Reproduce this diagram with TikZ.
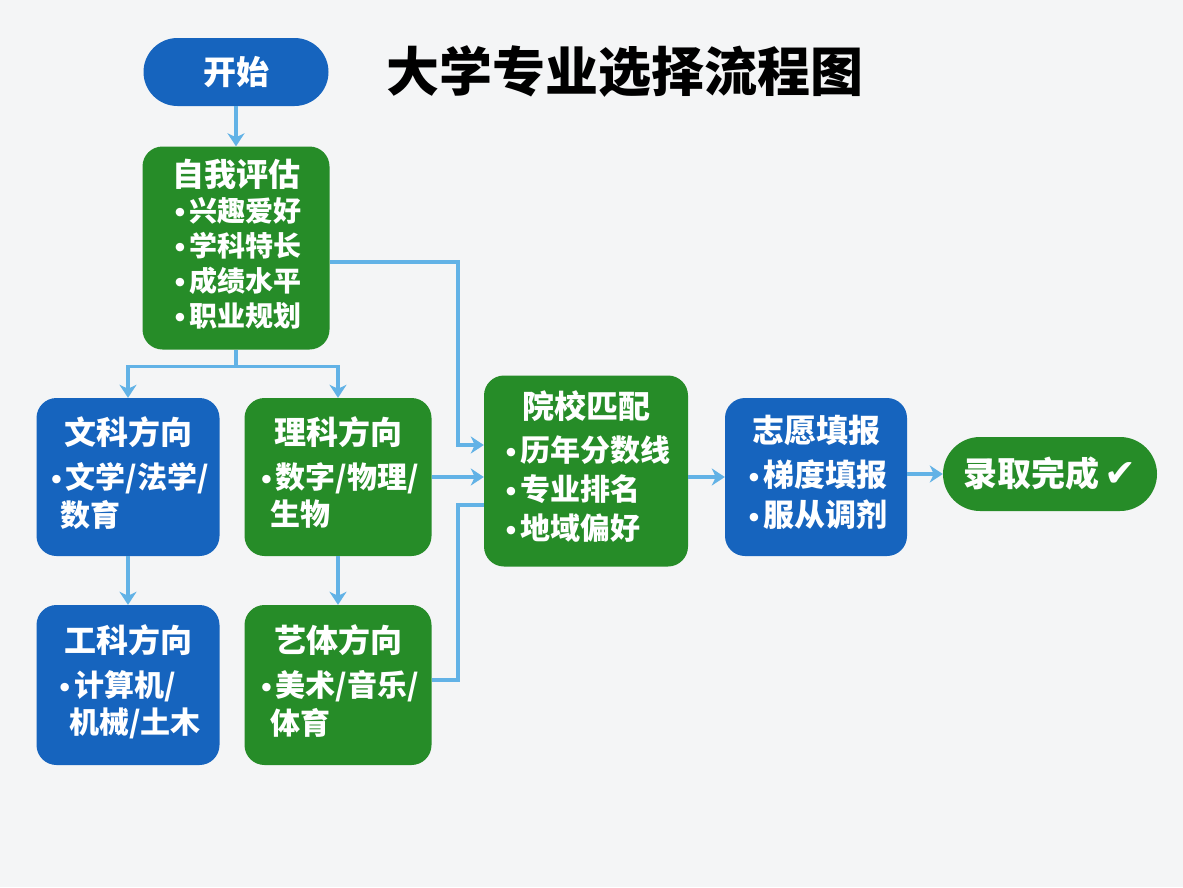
\documentclass[tikz,border=0pt]{standalone}
\usepackage{fontspec}
\setmainfont{Noto Sans CJK SC}
\newfontfamily\dotfont{DejaVu Sans}
\usetikzlibrary{arrows.meta,positioning,calc}

\definecolor{bgGray}{RGB}{244,245,246}
\definecolor{boxBlue}{RGB}{22,100,190}
\definecolor{boxGreen}{RGB}{38,140,40}
\definecolor{linkBlue}{RGB}{98,178,230}

\newcommand{\hd}[1]{{\fontsize{32}{38}\selectfont #1}}
\newcommand{\itm}{\makebox[19pt][c]{\dotfont\fontsize{24}{24}\selectfont •}}
\newcommand{\blist}[3]{{\fontsize{#1}{#2}\selectfont\begin{tabular}{@{}l@{}}#3\end{tabular}}}

\begin{document}
\begin{tikzpicture}[
  x=1pt,y=-1pt,
  font=\bfseries,
  card/.style={rounded corners=20pt,text=white,align=center,inner sep=0pt},
  bluecard/.style={card,fill=boxBlue},
  greencard/.style={card,fill=boxGreen},
  pill/.style={rounded corners=34pt,text=white,inner sep=0pt},
  link/.style={draw=linkBlue,line width=3.5pt},
  arr/.style={link,-{Stealth[length=13pt,width=17pt,inset=4pt]}}
]
\fill[bgGray] (0,0) rectangle (1183,887);

\node[pill,fill=boxBlue,minimum width=185pt,minimum height=68pt,font=\bfseries\fontsize{33}{38}\selectfont] (start) at (236,72) {开始};
\node[font=\bfseries\fontsize{53}{60}\selectfont] (title) at (625,72) {大学专业选择流程图};

\node[greencard,minimum width=187pt,minimum height=203pt] (assess) at (236,248)
  {\hd{自我评估}\\[6pt]\blist{28}{35}{\itm 兴趣爱好\\ \itm 学科特长\\ \itm 成绩水平\\ \itm 职业规划}};

\node[bluecard,minimum width=183pt,minimum height=158pt] (wenke) at (128,477)
  {\hd{文科方向}\\[14pt]\blist{30}{37}{\itm 文学/法学/\\ \hspace{14pt}数育}};
\node[greencard,minimum width=187pt,minimum height=158pt] (like) at (338,477)
  {\hd{理科方向}\\[14pt]\blist{30}{37}{\itm 数字/物理/\\ \hspace{14pt}生物}};
\node[bluecard,minimum width=183pt,minimum height=160pt] (gongke) at (128,685)
  {\hd{工科方向}\\[14pt]\blist{30}{37}{\itm 计算机/\\ \hspace{14pt}机械/土木}};
\node[greencard,minimum width=187pt,minimum height=160pt] (yiti) at (338,685)
  {\hd{艺体方向}\\[14pt]\blist{30}{37}{\itm 美术/音乐/\\ \hspace{14pt}体育}};

\node[greencard,minimum width=204pt,minimum height=191pt] (match) at (586,471)
  {\hd{院校匹配}\\[12pt]\blist{30}{39}{\itm 历年分数线\\ \itm 专业排名\\ \itm 地域偏好}};
\node[bluecard,minimum width=182pt,minimum height=158pt] (apply) at (816,477)
  {\hd{志愿填报}\\[12pt]\blist{31}{40}{\itm 梯度填报\\ \itm 服从调剂}};
\node[pill,fill=boxGreen,rounded corners=37pt,minimum width=214pt,minimum height=74pt] (done) at (1050,474)
  {\fontsize{34}{40}\selectfont 录取完成\,{\dotfont\fontsize{38}{40}\selectfont ✔}};

% main flow
\draw[arr] (start) -- (assess);
\draw[arr] (assess.south) -- ++(0,17) -| (wenke.north);
\draw[arr] (assess.south) -- ++(0,17) -| (like.north);
\draw[arr] (wenke) -- (gongke);
\draw[arr] (like) -- (yiti);

% into matching
\draw[arr] ([yshift=-14pt]assess.east) -- ++(128.5,0) |- ([yshift=26pt]match.west);
\draw[arr] (like.east) -- (like.east -| match.west);
\draw[link] ([yshift=5pt]yiti.east) -- ++(26.5,0) |- ([yshift=-34pt]match.west);

\draw[arr] (apply.west -| match.east) -- (apply.west);
\draw[arr] (done.west -| apply.east) -- (done.west);
\end{tikzpicture}
\end{document}
